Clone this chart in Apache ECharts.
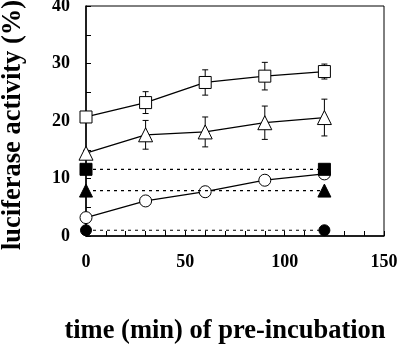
<!DOCTYPE html>
<html>
<head>
<meta charset="utf-8">
<script src="https://cdn.jsdelivr.net/npm/echarts@6/dist/echarts.min.js"></script>
<style>
  html, body { margin: 0; padding: 0; background: #fff; }
  #main { width: 400px; height: 344px; }
</style>
</head>
<body>
<div id="main"></div>
<script>
// time points (min)
var times = [0, 30, 60, 90, 120];

// open squares
var sqMean = [20.7, 23.2, 26.7, 27.8, 28.6];
var sqErr = [0.6, 1.9, 2.2, 2.4, 1.3];
// open triangles
var triMean = [14.4, 17.6, 18.1, 19.7, 20.6];
var triErr = [0.5, 2.5, 2.6, 2.9, 3.2];
// open circles
var ciMean = [3.2, 6.1, 7.7, 9.7, 10.8];
var ciErr = [0.3, 0.4, 0.4, 0.7, 0.5];

// filled controls (start / end, dotted)
var ctrlTimes = [0, 120];
var fSquare = [11.6, 11.6];
var fTriangle = [7.9, 7.9];
var fCircle = [1.0, 1.0];

var font = 'Liberation Serif, Times New Roman, serif';

function pairs(xs, ys) {
    return xs.map(function (x, i) { return [x, ys[i]]; });
}
function errData(mean, err) {
    return times.map(function (t, i) { return [t, mean[i] - err[i], mean[i] + err[i]]; });
}

function errSeries(mean, err) {
    return {
        type: 'custom',
        z: 1,
        data: errData(mean, err),
        renderItem: function (params, api) {
            var lo = api.coord([api.value(0), api.value(1)]);
            var hi = api.coord([api.value(0), api.value(2)]);
            var w = 3;
            var st = { stroke: '#000', lineWidth: 1 };
            return {
                type: 'group',
                children: [
                    { type: 'line', shape: { x1: lo[0], y1: lo[1], x2: hi[0], y2: hi[1] }, style: st },
                    { type: 'line', shape: { x1: lo[0] - w, y1: lo[1], x2: lo[0] + w, y2: lo[1] }, style: st },
                    { type: 'line', shape: { x1: hi[0] - w, y1: hi[1], x2: hi[0] + w, y2: hi[1] }, style: st }
                ]
            };
        }
    };
}

function openSeries(data, symbol, size) {
    return {
        type: 'line',
        z: 3,
        data: pairs(times, data),
        symbol: symbol,
        symbolSize: size,
        showAllSymbol: true,
        lineStyle: { color: '#000', width: 1.3 },
        itemStyle: { color: '#fff', borderColor: '#000', borderWidth: 1 }
    };
}

function ctrlSeries(data, symbol, size) {
    return {
        type: 'line',
        z: 4,
        data: pairs(ctrlTimes, data),
        symbol: symbol,
        symbolSize: size,
        lineStyle: { color: '#000', width: 1.2, type: [3, 4] },
        itemStyle: { color: '#000', borderColor: '#000', borderWidth: 1 }
    };
}

var chart = echarts.init(document.getElementById('main'), null, { renderer: 'canvas' });

var option = {
    animation: false,
    grid: {
        left: 86, top: 6, width: 298, height: 230,
        containLabel: false,
        outerBoundsMode: 'none',
        show: true, borderColor: '#000', borderWidth: 1, backgroundColor: 'transparent'
    },
    xAxis: {
        type: 'value',
        min: 0, max: 150, interval: 50,
        name: 'time (min) of pre-incubation',
        nameLocation: 'middle',
        nameGap: 82,
        nameTextStyle: { fontFamily: font, fontWeight: 'bold', fontSize: 26.5, color: '#000', padding: [0, 20, 0, 0] },
        axisLine: { lineStyle: { color: '#000', width: 1.5 } },
        axisTick: { inside: true, length: 5, lineStyle: { color: '#000' } },
        minorTick: { show: true, splitNumber: 5, length: 5, lineStyle: { color: '#000' } },
        splitLine: { show: false },
        axisLabel: { margin: 17, fontFamily: font, fontWeight: 'bold', fontSize: 18, color: '#000' }
    },
    yAxis: {
        type: 'value',
        min: 0, max: 40, interval: 10,
        name: 'luciferase activity (%)',
        nameLocation: 'middle',
        nameGap: 59,
        nameTextStyle: { fontFamily: font, fontWeight: 'bold', fontSize: 26.5, color: '#000', padding: [0, 8, 0, 0] },
        axisLine: { lineStyle: { color: '#000', width: 1.5 } },
        axisTick: { inside: true, length: 5, lineStyle: { color: '#000' } },
        minorTick: { show: true, splitNumber: 2, length: 5, lineStyle: { color: '#000' } },
        splitLine: { show: false },
        axisLabel: { margin: 16, fontFamily: font, fontWeight: 'bold', fontSize: 18, color: '#000' }
    },
    series: [
        errSeries(sqMean, sqErr),
        errSeries(triMean, triErr),
        errSeries(ciMean, ciErr),
        ctrlSeries(fSquare, 'rect', 12),
        ctrlSeries(fTriangle, 'triangle', 13),
        ctrlSeries(fCircle, 'circle', 11),
        openSeries(sqMean, 'rect', 12),
        openSeries(triMean, 'triangle', 14),
        openSeries(ciMean, 'circle', 12)
    ]
};

chart.setOption(option);
</script>
</body>
</html>
